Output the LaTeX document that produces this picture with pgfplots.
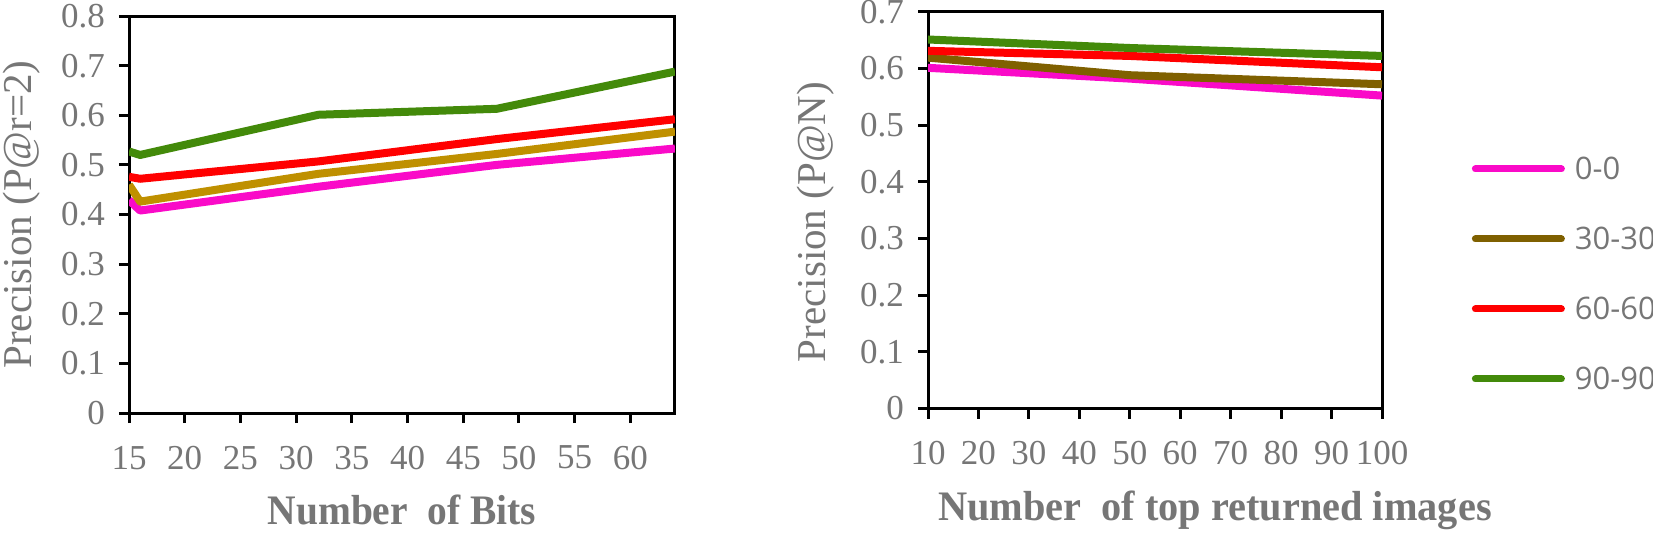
\documentclass[border=0pt]{standalone}
\usepackage{fontspec}
\setmainfont{Liberation Serif}
\newfontfamily\legfont{Open Sans}
\usepackage{graphicx}
\usepackage{pgfplots}
\pgfplotsset{compat=1.18}
\definecolor{txtgray}{RGB}{118,118,118}
\definecolor{cpink}{RGB}{250,10,200}
\definecolor{cgold}{RGB}{191,144,0}
\definecolor{cbrown}{RGB}{127,96,0}
\definecolor{cred}{RGB}{255,0,0}
\definecolor{cgreen}{RGB}{67,138,10}

\pgfplotsset{
  myax/.style={
    scale only axis,
    axis line style={line width=1.5pt, black},
    every tick/.style={line width=1.5pt, black},
    tick align=outside,
    major tick length=5pt,
    xtick pos=bottom, ytick pos=left,
    ymin=0,
    tick label style={font=\fontsize{17.5}{20}\selectfont, text=txtgray},
    /pgf/number format/assume math mode=true,
    yticklabel style={/pgf/number format/fixed, /pgf/number format/precision=1, xshift=-3.5pt},
    xticklabel style={yshift=-8pt},
    every axis x label/.style={},
    every axis y label/.style={},
    xlabel style={font=\fontsize{21}{24}\selectfont\bfseries, text=txtgray, anchor=base},
    ylabel style={font=\fontsize{20.5}{24}\selectfont, text=txtgray, rotate=90, anchor=center},
    every axis plot/.append style={line width=4pt, line join=round, no markers},
    clip=true,
  }
}

\begin{document}
\begin{tikzpicture}
% left chart
\begin{axis}[myax,
  at={(64.5pt,59.5pt)}, anchor=south west,
  width=273pt, height=198.5pt,
  xmin=15, xmax=64, ymax=0.8,
  xtick={15,20,25,30,35,40,45,50,55,60},
  ytick={0,0.1,0.2,0.3,0.4,0.5,0.6,0.7,0.8},
  xlabel={\scalebox{0.94}[1]{Number\ \ of Bits}},
  ylabel={Precision (P@r=2)},
  xlabel style={at={(axis description cs:0.5,-0.282)}},
  ylabel style={at={(axis description cs:-0.196,0.5)}},
]
\addplot[cpink] coordinates {(15,0.429) (16,0.408) (32,0.456) (48,0.500) (64,0.533)};
\addplot[cgold] coordinates {(15,0.460) (16,0.426) (32,0.482) (48,0.522) (64,0.567)};
\addplot[cred] coordinates {(15,0.476) (16,0.472) (32,0.507) (48,0.552) (64,0.592)};
\addplot[cgreen] coordinates {(15,0.527) (16,0.520) (32,0.601) (48,0.613) (64,0.688)};
\end{axis}
% right chart
\begin{axis}[myax,
  at={(464pt,61.75pt)}, anchor=south west,
  width=227pt, height=198.4pt,
  xmin=10, xmax=100, ymax=0.7,
  xtick={10,20,30,40,50,60,70,80,90,100},
  ytick={0,0.1,0.2,0.3,0.4,0.5,0.6,0.7},
  xlabel={\scalebox{0.96}[1]{Number\ \ of top returned images}},
  ylabel={Precision (P@N)},
  xlabel style={at={(axis description cs:0.632,-0.281)}},
  ylabel style={at={(axis description cs:-0.2467,0.47)}},
  legend style={at={(axis description cs:1.198,0.339)}, anchor=west,
    draw=none, fill=none, inner sep=0pt, outer sep=0pt,
    font=\legfont\fontsize{15.5}{18}\selectfont, text=txtgray,
    row sep=24pt,
    nodes={inner sep=0pt, text height=11pt, text depth=0pt},
    /tikz/every odd column/.style={column sep=5pt}},
  legend cell align=left,
  legend image code/.code={\draw[#1, line width=3.5pt, line cap=round] (0pt,0pt) -- (43pt,0pt);},
]
\addplot[cpink] coordinates {(10,0.601) (50,0.582) (100,0.552)};
\addlegendentry{0-0}
\addplot[cbrown] coordinates {(10,0.619) (50,0.588) (100,0.572)};
\addlegendentry{30-30}
\addplot[cred] coordinates {(10,0.631) (50,0.622) (100,0.602)};
\addlegendentry{60-60}
\addplot[cgreen] coordinates {(10,0.651) (50,0.636) (100,0.622)};
\addlegendentry{90-90}
\end{axis}
\pgfresetboundingbox
\useasboundingbox (0,0) rectangle (826.5pt,266pt);
\end{tikzpicture}
\end{document}
